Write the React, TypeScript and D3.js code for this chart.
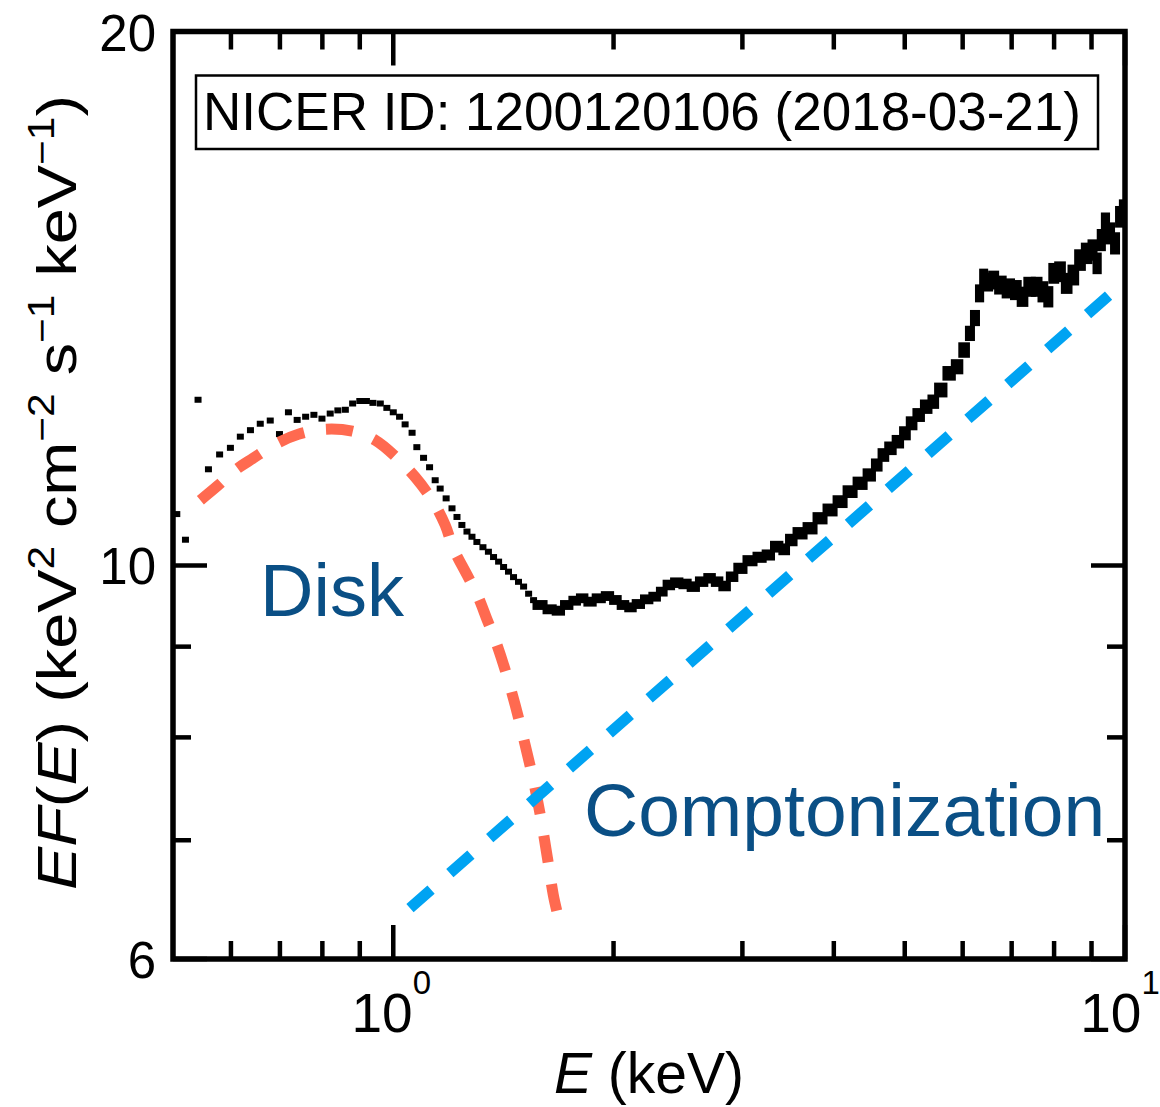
import React from "react";
import * as d3 from "d3";

// Low-energy binned spectrum points (keV, keV^2 cm^-2 s^-1 keV^-1)
const sparseEnergy = [
  0.506, 0.52, 0.541, 0.559, 0.579, 0.599, 0.618, 0.638, 0.658, 0.679, 0.699, 0.719,
  0.739, 0.759, 0.779, 0.799, 0.82, 0.84, 0.86, 0.88, 0.9, 0.919, 0.938, 0.96, 0.98,
  1.0, 1.02, 1.038, 1.061, 1.077, 1.1, 1.121, 1.141, 1.159, 1.181, 1.203, 1.222, 1.241,
  1.261, 1.281, 1.301, 1.326, 1.349, 1.371, 1.393, 1.415, 1.437, 1.46, 1.483, 1.507,
  1.531, 1.555,
];
const sparseFlux = [
  10.69, 10.34, 12.4, 11.33, 11.55, 11.65, 11.82, 11.92, 12.02, 12.07, 11.86, 12.2,
  12.08, 12.13, 12.16, 12.1, 12.18, 12.23, 12.24, 12.34, 12.38, 12.38, 12.35, 12.34,
  12.27, 12.2, 12.13, 12.01, 11.88, 11.66, 11.5, 11.36, 11.17, 11.05, 10.91, 10.77,
  10.65, 10.54, 10.45, 10.38, 10.31, 10.24, 10.18, 10.11, 10.05, 9.98, 9.92, 9.85,
  9.79, 9.73, 9.64, 9.56,
];

// Finely binned spectrum above ~1.6 keV
const denseEnergy = [
  1.587, 1.638, 1.681, 1.726, 1.772, 1.81, 1.857, 1.907, 1.967, 2.009, 2.063, 2.107,
  2.162, 2.22, 2.279, 2.328, 2.377, 2.44, 2.505, 2.57, 2.639, 2.709, 2.767, 2.84,
  2.901, 2.977, 3.073, 3.171, 3.255, 3.342, 3.431, 3.485, 3.597, 3.712, 3.83, 3.953,
  4.08, 4.21, 4.345, 4.484, 4.579, 4.675, 4.775, 4.899, 5.003, 5.11, 5.217, 5.357,
  5.47, 5.586, 5.765, 5.888, 6.043, 6.139, 6.237, 6.336, 6.403, 6.498, 6.607, 6.748,
  6.927, 7.112, 7.225, 7.416, 7.574, 7.733, 7.856, 7.981, 8.151, 8.324, 8.499, 8.68,
  8.865, 9.051, 9.149, 9.294, 9.391, 9.54, 9.692, 9.845, 9.929,
];
const denseFlux = [
  9.5, 9.447, 9.43, 9.5, 9.553, 9.583, 9.541, 9.583, 9.611, 9.562, 9.5, 9.471,
  9.512, 9.57, 9.603, 9.666, 9.75, 9.779, 9.763, 9.729, 9.792, 9.835, 9.792, 9.737,
  9.855, 9.963, 10.062, 10.107, 10.137, 10.247, 10.212, 10.336, 10.427, 10.495,
  10.632, 10.747, 10.864, 11.006, 11.126, 11.247, 11.393, 11.542, 11.643, 11.743,
  11.872, 12.027, 12.157, 12.289, 12.369, 12.558, 12.833, 12.943, 13.227, 13.516,
  13.788, 14.237, 14.523, 14.447, 14.485, 14.391, 14.329, 14.298, 14.174, 14.359,
  14.359, 14.266, 14.174, 14.612, 14.642, 14.423, 14.58, 14.866, 14.996, 15.061,
  14.803, 15.257, 15.591, 15.39, 15.192, 15.725, 15.862,
];
const denseErr = [
  0.03, 0.03, 0.03, 0.03, 0.03, 0.03, 0.03, 0.03, 0.03, 0.03, 0.03, 0.03,
  0.03, 0.03, 0.03, 0.03, 0.035, 0.035, 0.035, 0.035, 0.035, 0.035, 0.035, 0.035,
  0.035, 0.04, 0.04, 0.04, 0.04, 0.045, 0.045, 0.05, 0.05, 0.05, 0.05, 0.055,
  0.055, 0.055, 0.06, 0.06, 0.06, 0.065, 0.065, 0.065, 0.07, 0.07, 0.07, 0.075,
  0.075, 0.08, 0.08, 0.085, 0.09, 0.09, 0.1, 0.12, 0.13, 0.13, 0.13, 0.13,
  0.14, 0.14, 0.14, 0.14, 0.14, 0.15, 0.15, 0.15, 0.15, 0.15, 0.15, 0.16,
  0.16, 0.16, 0.16, 0.17, 0.17, 0.17, 0.17, 0.17, 0.17,
];

// Disk blackbody model component
const diskEnergy = [
  0.545, 0.5767, 0.6082, 0.6436, 0.6899, 0.7417, 0.8073, 0.879, 0.945, 1.0127, 1.0716,
  1.1305, 1.1776, 1.2077, 1.2621, 1.3066, 1.3441, 1.3784, 1.4223, 1.4678, 1.5147,
  1.5538, 1.5883, 1.6237, 1.6546, 1.6755,
];
const diskFlux = [
  10.885, 11.099, 11.317, 11.494, 11.705, 11.857, 11.935, 11.904, 11.766, 11.494,
  11.215, 10.885, 10.537, 10.227, 9.874, 9.597, 9.315, 9.077, 8.73, 8.342, 7.919,
  7.568, 7.232, 6.849, 6.52, 6.37,
];

// Comptonization power-law component (straight in log-log)
const comptEnergy = [1.054, 9.75];
const comptFlux = [6.41, 14.33];

const xMajorTicks = [1, 10];
const xMinorTicks = [0.6, 0.7, 0.8, 0.9, 2, 3, 4, 5, 6, 7, 8, 9];
const xTickExponents = ["0", "1"];
const yMajorTicks = [6, 10, 20];
const yMinorTicks = [7, 8, 9];

const FONT = "'Liberation Sans', Arial, Helvetica, sans-serif";
const W = 1160;
const H = 1107;
const plot = { left: 173, right: 1125, top: 31.5, bottom: 959 };

export default function App() {
  const x = d3.scaleLog().domain([0.5, 10]).range([plot.left, plot.right]);
  const y = d3.scaleLog().domain([6, 20]).range([plot.bottom, plot.top]);

  const diskLine = d3
    .line<number>()
    .x((_, i) => x(diskEnergy[i]))
    .y((_, i) => y(diskFlux[i]))
    .curve(d3.curveCatmullRom.alpha(0.5));
  const comptLine = d3
    .line<number>()
    .x((_, i) => x(comptEnergy[i]))
    .y((_, i) => y(comptFlux[i]));

  const denseBins = denseEnergy.map((e, i) => {
    const prev = i > 0 ? denseEnergy[i - 1] : e * e / denseEnergy[i + 1];
    const next = i < denseEnergy.length - 1 ? denseEnergy[i + 1] : e * e / denseEnergy[i - 1];
    const lo = Math.sqrt(prev * e);
    const hi = Math.sqrt(e * next);
    return {
      x0: x(lo),
      x1: x(hi),
      y0: y(denseFlux[i] + denseErr[i]),
      y1: y(denseFlux[i] - denseErr[i]),
    };
  });

  const major = 34;
  const minor = 18;

  return (
    <svg
      width={W}
      height={H}
      style={{ display: "block", position: "absolute", left: 0, top: 0 }}
      fontFamily={FONT}
    >
      <defs>
        <clipPath id="plotClip">
          <rect x={plot.left} y={plot.top} width={plot.right - plot.left} height={plot.bottom - plot.top} />
        </clipPath>
      </defs>

      <g clipPath="url(#plotClip)">
        {sparseEnergy.map((e, i) => (
          <rect key={"s" + i} x={x(e) - 3.5} y={y(sparseFlux[i]) - 3} width={7} height={6} fill="#000" />
        ))}
        {denseBins.map((b, i) => (
          <rect
            key={"d" + i}
            x={b.x0}
            y={b.y0}
            width={Math.max(0.5, b.x1 - b.x0)}
            height={Math.max(0.5, b.y1 - b.y0)}
            fill="#000"
            stroke="#000"
            strokeWidth={5}
          />
        ))}
        <path
          d={diskLine(diskEnergy) || ""}
          fill="none"
          stroke="#FF6A50"
          strokeWidth={11}
          strokeDasharray="27 22"
        />
        <path
          d={comptLine(comptEnergy) || ""}
          fill="none"
          stroke="#00A3F2"
          strokeWidth={11}
          strokeDasharray="28 25"
        />
      </g>

      {/* ticks on all four sides, pointing inward */}
      <g stroke="#000" strokeWidth={4.5}>
        {xMajorTicks.concat(xMinorTicks).map((t) => {
          const len = xMajorTicks.includes(t) ? major : minor;
          return (
            <g key={"xt" + t}>
              <line x1={x(t)} x2={x(t)} y1={plot.bottom} y2={plot.bottom - len} />
              <line x1={x(t)} x2={x(t)} y1={plot.top} y2={plot.top + len} />
            </g>
          );
        })}
        {yMajorTicks.concat(yMinorTicks).map((t) => {
          const len = yMajorTicks.includes(t) ? major : minor;
          return (
            <g key={"yt" + t}>
              <line x1={plot.left} x2={plot.left + len} y1={y(t)} y2={y(t)} />
              <line x1={plot.right} x2={plot.right - len} y1={y(t)} y2={y(t)} />
            </g>
          );
        })}
      </g>
      <rect
        x={plot.left}
        y={plot.top}
        width={plot.right - plot.left}
        height={plot.bottom - plot.top}
        fill="none"
        stroke="#000"
        strokeWidth={5.5}
      />

      {/* y tick labels */}
      {yMajorTicks.map((t) => (
        <text key={"yl" + t} x={156} y={y(t) + 19} textAnchor="end" fontSize={51} fill="#000">
          {t}
        </text>
      ))}
      {/* x tick labels as powers of ten */}
      {xMajorTicks.map((t, i) => (
        <text
          key={"xl" + t}
          x={x(t) - (t === 10 ? 5 : 2)}
          y={1032}
          textAnchor="middle"
          fontSize={55}
          fill="#000"
        >
          10
          <tspan dy={-38} fontSize={33}>
            {xTickExponents[i]}
          </tspan>
        </text>
      ))}

      {/* axis titles */}
      <text x={(plot.left + plot.right) / 2} y={1093} textAnchor="middle" fontSize={57} fill="#000">
        <tspan fontStyle="italic">E</tspan> (keV)
      </text>
      <text
        transform={`translate(76, 492.5) rotate(-90)`}
        textAnchor="middle"
        fontSize={55}
        fill="#000"
        textLength={795}
        lengthAdjust="spacingAndGlyphs"
      >
        <tspan fontStyle="italic">EF</tspan>(<tspan fontStyle="italic">E</tspan>) (keV
        <tspan dy={-22} fontSize={36}>2</tspan>
        <tspan dy={22}> cm</tspan>
        <tspan dy={-22} fontSize={36}>−2</tspan>
        <tspan dy={22}> s</tspan>
        <tspan dy={-22} fontSize={36}>−1</tspan>
        <tspan dy={22}> keV</tspan>
        <tspan dy={-22} fontSize={36}>−1</tspan>
        <tspan dy={22}>)</tspan>
      </text>

      {/* observation label */}
      <rect x={196} y={75.5} width={902} height={73.5} fill="#fff" stroke="#000" strokeWidth={2.5} />
      <text x={203} y={130} fontSize={53} fill="#000">
        NICER ID: 1200120106 (2018-03-21)
      </text>

      {/* component labels */}
      <text x={260} y={616} fontSize={74} fill="#0A4F85">
        Disk
      </text>
      <text x={584} y={836} fontSize={75} fill="#0A4F85">
        Comptonization
      </text>
    </svg>
  );
}
